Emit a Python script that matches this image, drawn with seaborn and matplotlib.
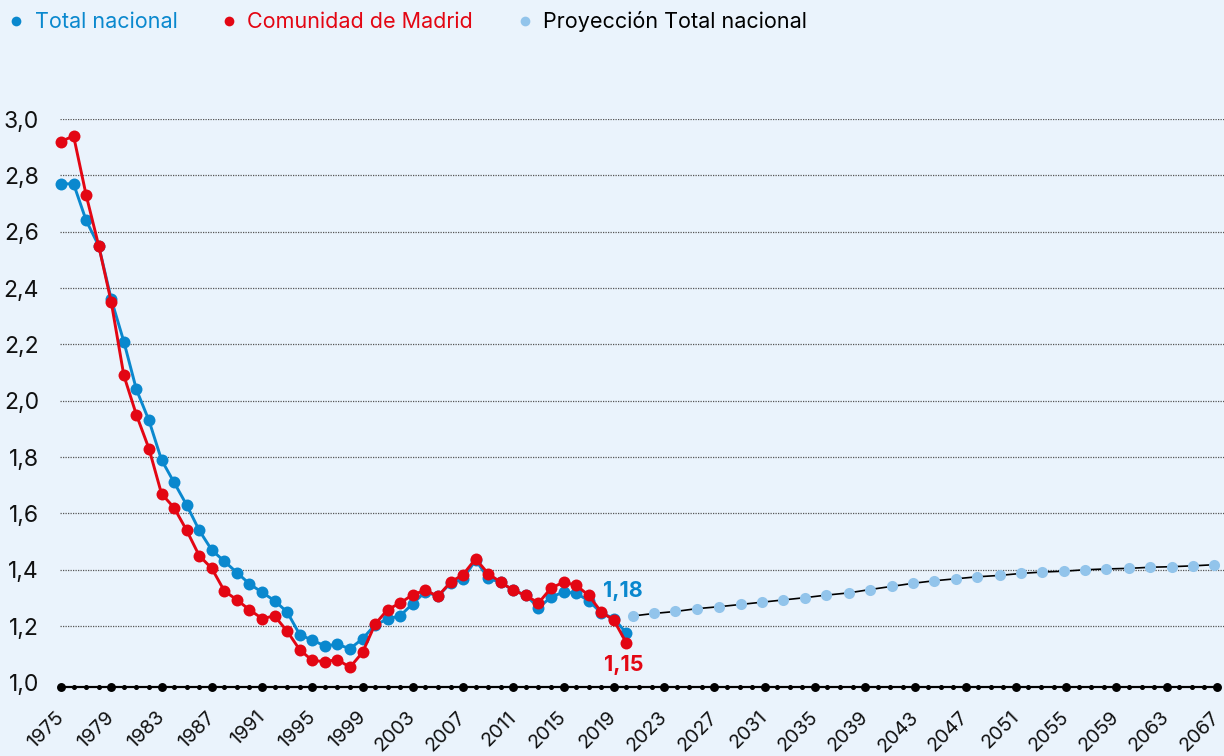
import numpy as np
import pandas as pd
import matplotlib
matplotlib.use("Agg")
import matplotlib.pyplot as plt
import seaborn as sns
from matplotlib.lines import Line2D
from matplotlib.ticker import FixedLocator, FuncFormatter

# ---------------- data ----------------
years = list(range(1975, 2021))
total_nacional = [2.77, 2.77, 2.64, 2.55, 2.36, 2.21, 2.04, 1.93, 1.79, 1.71,
                  1.63, 1.54, 1.47, 1.43, 1.39, 1.35, 1.32, 1.29, 1.25, 1.17,
                  1.15, 1.13, 1.135, 1.12, 1.155, 1.205, 1.225, 1.237, 1.28, 1.322,
                  1.306, 1.353, 1.368, 1.435, 1.37, 1.355, 1.327, 1.31, 1.265, 1.303,
                  1.321, 1.317, 1.29, 1.247, 1.227, 1.175]
madrid = [2.92, 2.94, 2.73, 2.55, 2.35, 2.09, 1.95, 1.83, 1.67, 1.62,
          1.54, 1.45, 1.405, 1.325, 1.293, 1.258, 1.227, 1.236, 1.182, 1.116,
          1.078, 1.074, 1.081, 1.054, 1.107, 1.207, 1.259, 1.282, 1.312, 1.327,
          1.306, 1.356, 1.383, 1.439, 1.386, 1.356, 1.327, 1.309, 1.282, 1.335,
          1.356, 1.345, 1.309, 1.25, 1.221, 1.14]
proj_years = [2020.5, 2022.2, 2023.9, 2025.6, 2027.4, 2029.1, 2030.8, 2032.5,
              2034.2, 2035.9, 2037.7, 2039.4, 2041.1, 2042.8, 2044.5, 2046.2,
              2047.9, 2049.7, 2051.4, 2053.1, 2054.8, 2056.5, 2058.2, 2060.0,
              2061.7, 2063.4, 2065.1, 2066.8]
proyeccion = [1.236, 1.245, 1.252, 1.262, 1.269, 1.277, 1.285, 1.293, 1.301, 1.31,
              1.318, 1.33, 1.341, 1.352, 1.361, 1.368, 1.375, 1.38, 1.387, 1.392,
              1.395, 1.4, 1.403, 1.405, 1.409, 1.411, 1.414, 1.418]
series_names = ["Total nacional", "Comunidad de Madrid", "Proyección Total nacional"]
end_labels = ["1,18", "1,15"]
y_ticks = [1.0, 1.2, 1.4, 1.6, 1.8, 2.0, 2.2, 2.4, 2.6, 2.8, 3.0]
x_tick_years = list(range(1975, 2068, 4))
all_years = list(range(1975, 2068))

# ---------------- style ----------------
BG = "#EAF3FC"
BLUE = "#0A88CE"
RED = "#E30613"
LIGHT = "#92C4EB"

sns.set_theme(style="white")
plt.rcParams["font.family"] = ["Inter", "DejaVu Sans"]

fig = plt.figure(figsize=(12.24, 7.56), dpi=100, facecolor=BG)
W, H = 1224, 756
ax_left, ax_right, ax_top, ax_bottom = 60, 1224, 119, 686.7
ax = fig.add_axes([ax_left / W, (H - ax_bottom) / H,
                   (ax_right - ax_left) / W, (ax_bottom - ax_top) / H])
ax.set_facecolor(BG)

df = pd.DataFrame({
    "year": years * 2,
    "tfr": total_nacional + madrid,
    "serie": [series_names[0]] * len(years) + [series_names[1]] * len(years),
})

sns.lineplot(data=df, x="year", y="tfr", hue="serie",
             hue_order=series_names[:2],
             palette={series_names[0]: BLUE, series_names[1]: RED},
             marker="o", markersize=8.6, markeredgewidth=0, linewidth=2.1,
             estimator=None, legend=False, ax=ax, clip_on=False, zorder=4)

sns.lineplot(x=proj_years, y=proyeccion, color="black", linewidth=1.2,
             marker="o", markersize=8.0, markerfacecolor=LIGHT,
             markeredgecolor=LIGHT, markeredgewidth=0,
             estimator=None, sort=False, ax=ax, clip_on=False, zorder=3)

ax.set_xlim(1974.92, 2067.56)
ax.set_ylim(0.985, 3.0)

# gridlines (dotted)
for v in y_ticks[1:]:
    ax.axhline(v, color="#555555", linestyle=(0, (1, 1)), linewidth=0.9, zorder=1)

# axes styling
for s in ["top", "right", "left"]:
    ax.spines[s].set_visible(False)
ax.spines["bottom"].set_color("black")
ax.spines["bottom"].set_linewidth(1.6)
ax.spines["bottom"].set_bounds(1975, 2067)
ax.spines["bottom"].set_zorder(5)

ax.yaxis.set_major_locator(FixedLocator(y_ticks))
ax.yaxis.set_major_formatter(FuncFormatter(lambda v, p: f"{v:.1f}".replace(".", ",")))
ax.tick_params(axis="y", length=0, pad=15, labelsize=16.5, labelcolor="#111111")

ax.set_xticks(x_tick_years)
ax.set_xticklabels([str(y) for y in x_tick_years], rotation=45, ha="right",
                   va="center", rotation_mode="anchor")
ax.tick_params(axis="x", length=0, pad=20, labelsize=14.2, labelcolor="#111111")
ax.set_xlabel("")
ax.set_ylabel("")

# dots on the x axis line: big every 4 years, small every year
xt = ax.get_xaxis_transform()
ax.plot(all_years, [0] * len(all_years), "o", color="black", markersize=2.6,
        transform=xt, clip_on=False, zorder=6)
ax.plot(x_tick_years, [0] * len(x_tick_years), "o", color="black", markersize=5.4,
        transform=xt, clip_on=False, zorder=7)

# end labels
ax.annotate(end_labels[0], xy=(years[-1], total_nacional[-1]), xytext=(-4, 42),
            textcoords="offset pixels", ha="center", va="center",
            fontsize=15.5, fontweight="bold", color=BLUE)
ax.annotate(end_labels[1], xy=(years[-1], madrid[-1]), xytext=(-3, -22),
            textcoords="offset pixels", ha="center", va="center",
            fontsize=15.5, fontweight="bold", color=RED)

# legend
handles = [Line2D([], [], linestyle="", marker="o", markersize=7, color=c, markeredgewidth=0)
           for c in (BLUE, RED, LIGHT)]
leg = fig.legend(handles, series_names, loc="upper left", bbox_to_anchor=(-0.006, 1.005),
                 ncol=3, frameon=False, fontsize=15.5, handlelength=0.8,
                 handletextpad=0.45, columnspacing=2.0, borderaxespad=0.3)
for txt, c in zip(leg.get_texts(), (BLUE, RED, "black")):
    txt.set_color(c)

fig.savefig("out.png", dpi=100, facecolor=BG)
